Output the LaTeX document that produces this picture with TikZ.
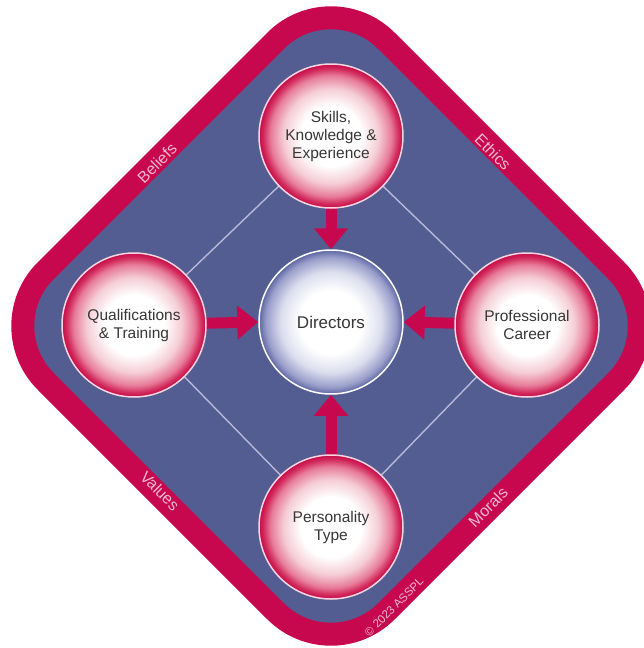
\documentclass[tikz,border=0pt]{standalone}
\usepackage{fontspec}
\setmainfont{Liberation Sans}
\usetikzlibrary{arrows.meta}

\definecolor{crimson}{HTML}{C8084E}
\definecolor{slate}{HTML}{535D92}
\definecolor{bandtext}{HTML}{F4B8CE}
\definecolor{ink}{HTML}{363636}
\definecolor{ringpink}{HTML}{F6D6DE}
\definecolor{linklav}{HTML}{B6BAD8}
\definecolor{rbA}{HTML}{F5CDD7}
\definecolor{rbB}{HTML}{E77C98}
\definecolor{rbC}{HTML}{D22A5C}
\definecolor{rbD}{HTML}{C50A4B}
\definecolor{bbA}{HTML}{DCDEEE}
\definecolor{bbB}{HTML}{9A9FCB}
\definecolor{bbC}{HTML}{5E66A2}

% the circle's rim sits at 25bp of the shading radius
\pgfdeclareradialshading{redball}{\pgfpointorigin}{%
  color(0bp)=(white); color(10.5bp)=(white); color(16.5bp)=(rbA);
  color(21bp)=(rbB); color(23.5bp)=(rbC); color(25bp)=(rbD);
  color(50bp)=(rbD)}
\pgfdeclareradialshading{blueball}{\pgfpointorigin}{%
  color(0bp)=(white); color(11bp)=(white); color(17.5bp)=(bbA);
  color(22.5bp)=(bbB); color(25bp)=(bbC); color(50bp)=(bbC)}

\pgfdeclarelayer{plate}
\pgfdeclarelayer{links}
\pgfsetlayers{plate,links,main}

\tikzset{
  hub/.style={circle, minimum size=144pt, inner sep=0pt, align=center,
    text=ink, font=\fontsize{15.5}{18}\selectfont,
    draw=ringpink, line width=1.5pt, shading=redball},
  core/.style={hub, draw=white, shading=blueball,
    font=\fontsize{17}{20}\selectfont},
  flow/.style={draw=crimson, line width=11pt,
    -{Triangle[width=33pt,length=21pt]}},
  link/.style={draw=linklav, line width=1.4pt},
  bandlabel/.style={text=bandtext, font=\fontsize{16}{18}\selectfont,
    inner sep=0pt},
  credit/.style={text=bandtext, font=\fontsize{11.5}{13}\selectfont,
    inner sep=0pt},
}

\begin{document}
\begin{tikzpicture}[x=1pt,y=-1pt]
  \useasboundingbox (0,0) rectangle (643,648);

  % framed plate: crimson rim around the slate field
  \begin{pgfonlayer}{plate}
    \fill[crimson, rounded corners=90pt]
      (152.5,147.5) -- (331,-31) -- (688,326) -- (331,683) -- (-26,326) -- cycle;
    \fill[slate, rounded corners=66pt]
      (169,164) -- (331,2) -- (655,326) -- (331,650) -- (7,326) -- cycle;
  \end{pgfonlayer}

  % influences
  \node[hub] (skills) at (331,136) {Skills,\\Knowledge \&\\Experience};
  \node[hub] (quals) at (134,325) {Qualifications\\\& Training};
  \node[hub] (career) at (527,325) {Professional\\Career};
  \node[hub] (persona) at (331,527) {Personality\\Type};
  \node[core] (directors) at (331,322) {Directors};

  % ring links and arrows into the centre
  \begin{pgfonlayer}{links}
    \draw[link] (skills.center) -- (career.center) -- (persona.center)
      -- (quals.center) -- cycle;
    \draw[flow] (skills.center) -- (directors.north);
    \draw[flow] (quals.center) -- (directors.west);
    \draw[flow] (career.center) -- (directors.east);
    \draw[flow] (persona.center) -- (directors.south);
  \end{pgfonlayer}

  % words along the rim
  \node[bandlabel, rotate=45] (beliefs) at (157,163) {Beliefs};
  \node[bandlabel, rotate=-45] (ethics) at (493,152) {Ethics};
  \node[bandlabel, rotate=-45] (values) at (160,491) {Values};
  \node[bandlabel, rotate=45] (morals) at (488,507) {Morals};
  \node[credit, rotate=45] (copyright) at (394,607) {© 2023 ASSPL};
\end{tikzpicture}
\end{document}
